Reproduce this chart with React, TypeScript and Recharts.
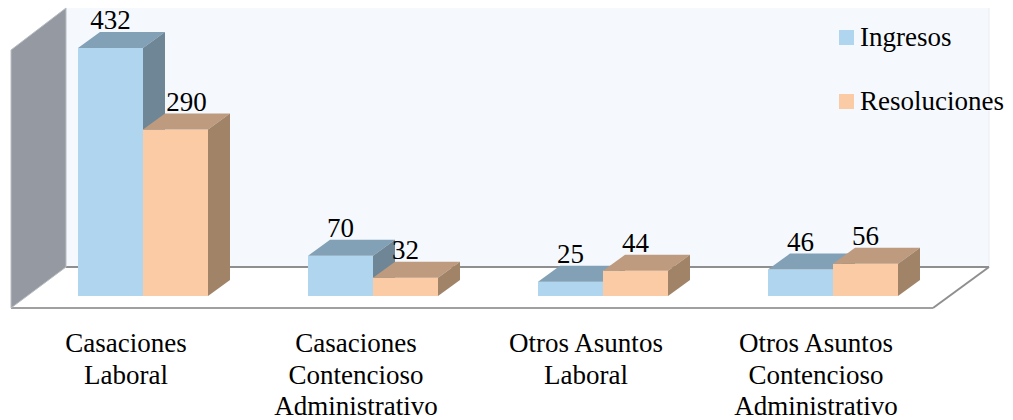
import React from 'react'
import { Bar, BarChart, LabelList, Legend, XAxis, YAxis } from 'recharts'

const categories = ['Casaciones Laboral', 'Casaciones Contencioso Administrativo', 'Otros Asuntos Laboral', 'Otros Asuntos Contencioso Administrativo']
const tickLines = [
  ['Casaciones', 'Laboral'],
  ['Casaciones', 'Contencioso', 'Administrativo'],
  ['Otros Asuntos', 'Laboral'],
  ['Otros Asuntos', 'Contencioso', 'Administrativo'],
]
const ingresos = [432, 70, 25, 46]
const resoluciones = [290, 32, 44, 56]

const chartData = categories.map((name, i) => ({
  name,
  ingresos: ingresos[i],
  resoluciones: resoluciones[i],
}))

const W = 1013
const H = 420
const MARGIN = { top: 48, right: 65, bottom: 24, left: 28 }
const X_AXIS_H = 100
const DX = 22
const DY = -16
const FONT = '"Liberation Serif", serif'

const colors = {
  ingresos: { front: '#b0d5ef', top: '#82a1b6', side: '#6f8697' },
  resoluciones: { front: '#fbcba6', top: '#be9b7e', side: '#a18367' },
}

type Faces = { front: string; top: string; side: string }

const box3d = (c: Faces) => (props: any) => {
  const { x, y, width, height } = props
  if (width == null || height == null) return <g />
  return (
    <g>
      <rect x={x} y={y} width={width} height={height} fill={c.front} />
      <polygon
        points={`${x},${y} ${x + DX},${y + DY} ${x + width + DX},${y + DY} ${x + width},${y}`}
        fill={c.top}
      />
      <polygon
        points={`${x + width},${y} ${x + width + DX},${y + DY} ${x + width + DX},${y + height + DY} ${x + width},${y + height}`}
        fill={c.side}
      />
    </g>
  )
}

const valueLabel = (series: 'ingresos' | 'resoluciones') => (props: any) => {
  const { x, y, width, value, index } = props
  let cx = x + width / 2
  if (series === 'resoluciones') {
    // push the label off the taller neighbour's side face
    const diff = ((ingresos[index] - resoluciones[index]) / 432) * 248
    if (diff > 40) cx += DX / 2
  }
  return (
    <text x={cx} y={y + DY - 3} textAnchor="middle" fontFamily={FONT} fontSize={27} fill="#000">
      {value}
    </text>
  )
}

const CategoryTick = (props: any) => {
  const { x, y, index } = props
  const lines = tickLines[index] || []
  return (
    <g>
      {lines.map((t, i) => (
        <text key={i} x={x - 17} y={y + 56 + i * 31.5} textAnchor="middle" fontFamily={FONT} fontSize={27} fill="#000">
          {t}
        </text>
      ))}
    </g>
  )
}

const renderLegend = () => (
  <svg width={W} height={130} style={{ display: 'block' }}>
    <rect x={839} y={30} width={15} height={15} fill={colors.ingresos.front} />
    <text x={860} y={46} fontFamily={FONT} fontSize={27} fill="#000">Ingresos</text>
    <rect x={839} y={94} width={15} height={15} fill={colors.resoluciones.front} />
    <text x={860} y={110} fontFamily={FONT} fontSize={27} fill="#000">Resoluciones</text>
  </svg>
)

// walls and floor of the 3D box
const plotLeft = MARGIN.left
const plotRight = W - MARGIN.right
const plotBottom = H - MARGIN.bottom - X_AXIS_H
const backL = plotLeft + 38
const backR = plotRight + 41
const backTop = 8
const backBottom = plotBottom - 29
const frontL = plotLeft - 17
const frontR = plotRight - 15
const frontBottom = plotBottom + 12

const Walls = () => (
  <svg width={W} height={H} style={{ position: 'absolute', left: 0, top: 0 }}>
    <rect x={backL} y={backTop} width={backR - backL} height={backBottom - backTop} fill="#f5f9fe" />
    <line x1={backR} y1={backTop} x2={backR} y2={backBottom} stroke="#e8ecf1" strokeWidth={1} />
    <polygon
      points={`${backL},${backBottom} ${backR},${backBottom} ${frontR},${frontBottom} ${frontL},${frontBottom}`}
      fill="#ffffff"
    />
    <line x1={backL} y1={backBottom} x2={backR} y2={backBottom} stroke="#8f8f8f" strokeWidth={2} />
    <line x1={backR} y1={backBottom} x2={frontR} y2={frontBottom} stroke="#8f8f8f" strokeWidth={2} />
    <line x1={frontL} y1={frontBottom} x2={frontR} y2={frontBottom} stroke="#a0a0a0" strokeWidth={2} />
    <polygon
      points={`${frontL},${backTop + 42} ${backL},${backTop} ${backL},${backBottom} ${frontL},${frontBottom}`}
      fill="#959aa2"
      stroke="#b9bdc3"
      strokeWidth={1}
    />
  </svg>
)

const App = () => {
  return (
    <div style={{ position: 'absolute', left: 0, top: 0, width: W, height: H, background: '#fff' }}>
      <Walls />
      <div style={{ position: 'absolute', left: 0, top: 0 }}>
        <BarChart width={W} height={H} data={chartData} margin={MARGIN} barGap={0} barSize={65}>
          <XAxis
            dataKey="name"
            height={X_AXIS_H}
            axisLine={false}
            tickLine={false}
            tickSize={0}
            tickMargin={0}
            interval={0}
            tick={<CategoryTick />}
          />
          <YAxis hide domain={[0, 432]} />
          <Legend
            layout="vertical"
            align="center"
            verticalAlign="middle"
            content={renderLegend}
            wrapperStyle={{ left: 0, top: 0, width: W, height: 130, pointerEvents: 'none' }}
          />
          <Bar dataKey="ingresos" name="Ingresos" fill={colors.ingresos.front} shape={box3d(colors.ingresos)} isAnimationActive={false}>
            <LabelList dataKey="ingresos" content={valueLabel('ingresos')} />
          </Bar>
          <Bar dataKey="resoluciones" name="Resoluciones" fill={colors.resoluciones.front} shape={box3d(colors.resoluciones)} isAnimationActive={false}>
            <LabelList dataKey="resoluciones" content={valueLabel('resoluciones')} />
          </Bar>
        </BarChart>
      </div>
    </div>
  )
}

export default App
